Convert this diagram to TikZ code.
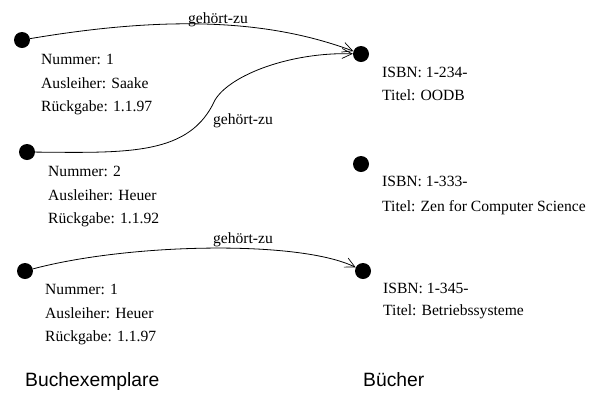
\documentclass[tikz,border=0pt]{standalone}
\usepackage{fontspec}
\setmainfont{Liberation Serif}
\setsansfont{Liberation Sans}
\usetikzlibrary{arrows.meta}
\tikzset{
  dot/.style={circle,fill=black,inner sep=0pt,minimum size=16pt},
  info/.style={anchor=base west,inner sep=0pt,font=\fontsize{15.6pt}{18pt}\selectfont},
  rel/.style={anchor=base,inner sep=0pt,font=\fontsize{15.6pt}{18pt}\selectfont},
  title/.style={anchor=base west,inner sep=0pt,font=\sffamily\fontsize{19.3pt}{23pt}\selectfont},
  link/.style={line width=0.8pt,-{Straight Barb[length=10pt,width=10pt,line width=0.7pt]}}
}
\begin{document}
\begin{tikzpicture}[x=1pt,y=-1pt]
\useasboundingbox (0,0) rectangle (589,392);
% dots
\node[dot] (L1) at (22,40) {};
\node[dot] (L2) at (27,152) {};
\node[dot] (L3) at (25,271) {};
\node[dot] (R1) at (361,54) {};
\node[dot] (R2) at (361,164) {};
\node[dot] (R3) at (363,271) {};
% left texts
\node[info] (a1) at (41,64.5) {Nummer: 1};
\node[info] (a2) at (41,88) {Ausleiher: Saake};
\node[info] (a3) at (41,111) {Rückgabe: 1.1.97};
\node[info] (b1) at (48,176.7) {Nummer: 2};
\node[info] (b2) at (48,200) {Ausleiher: Heuer};
\node[info] (b3) at (48,223.3) {Rückgabe: 1.1.92};
\node[info] (c1) at (45,294.3) {Nummer: 1};
\node[info] (c2) at (45,318.3) {Ausleiher: Heuer};
\node[info] (c3) at (45,341.7) {Rückgabe: 1.1.97};
% right texts
\node[info] (r11) at (382,77.7) {ISBN: 1-234-};
\node[info] (r12) at (382,100) {Titel: OODB};
\node[info] (r21) at (382,186.7) {ISBN: 1-333-};
\node[info] (r22) at (382,211) {Titel: Zen for Computer Science};
\node[info] (r31) at (383,293.3) {ISBN: 1-345-};
\node[info] (r32) at (383,315) {Titel: Betriebssysteme};
% titles
\node[title] (t1) at (25,386.7) {Buchexemplare};
\node[title] (t2) at (363,386.7) {Bücher};
% connectors
\coordinate (m2) at (215,100);
\draw[line width=0.8pt] (L2) .. controls (130,153) and (190,155) .. (m2);
\draw[link] (L1) .. controls (170,15) and (270,20) .. (R1);
\draw[link] (m2) .. controls (230,75) and (290,52) .. (R1);
\draw[link] (L3) .. controls (130,243) and (300,240) .. (R3);
% labels
\node[rel] (g1) at (218,23.5) {gehört-zu};
\node[rel] (g2) at (243,124) {gehört-zu};
\node[rel] (g3) at (243,243.5) {gehört-zu};
\end{tikzpicture}
\end{document}
